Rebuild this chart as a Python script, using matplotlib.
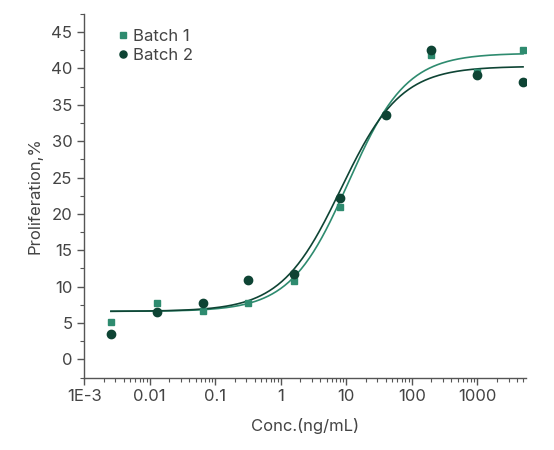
import numpy as np
import matplotlib.pyplot as plt
from matplotlib.ticker import FixedLocator, LogLocator, NullFormatter, MultipleLocator

plt.rcParams['font.family'] = ['Inter', 'DejaVu Sans']

# data
conc = [0.00256, 0.0128, 0.064, 0.32, 1.6, 8, 40, 200, 1000, 5000]
batch1 = [5.1, 7.7, 6.6, 7.7, 10.8, 20.9, 33.6, 41.9, 39.5, 42.6]
batch2 = [3.5, 6.5, 7.8, 10.9, 11.7, 22.2, 33.6, 42.5, 39.1, 38.2]

# 4PL fit parameters (bottom, top, ec50, hill)
fit1 = (6.6, 42.1, 10.8, 0.98)
fit2 = (6.6, 40.3, 8.3, 0.95)

xtick_vals = [1e-3, 0.01, 0.1, 1, 10, 100, 1000]
xtick_labels = ['1E-3', '0.01', '0.1', '1', '10', '100', '1000']

c1 = '#2e8b6f'
c2 = '#0e4434'
grey = '#555555'


def four_pl(x, p):
    bottom, top, ec50, hill = p
    return bottom + (top - bottom) / (1 + (ec50 / x) ** hill)


fig = plt.figure(figsize=(5.54, 4.5), dpi=100)
ax = fig.add_axes([0.152, 0.161, 0.797, 0.808])

xs = np.logspace(np.log10(conc[0]), np.log10(conc[-1]), 300)
ax.plot(xs, four_pl(xs, fit1), color=c1, lw=1.2, zorder=2)
ax.plot(xs, four_pl(xs, fit2), color=c2, lw=1.2, zorder=2)
ax.plot(conc, batch1, 's', color=c1, ms=5, label='Batch 1', zorder=3)
ax.plot(conc, batch2, 'o', color=c2, ms=6, label='Batch 2', zorder=4)

ax.set_xscale('log')
ax.set_xlim(1e-3, 5500)
ax.set_ylim(-2.5, 47.5)
ax.xaxis.set_major_locator(FixedLocator(xtick_vals))
ax.set_xticklabels(xtick_labels)
ax.xaxis.set_minor_locator(LogLocator(base=10, subs=np.arange(2, 10), numticks=20))
ax.xaxis.set_minor_formatter(NullFormatter())
ax.yaxis.set_major_locator(FixedLocator(range(0, 50, 5)))
ax.yaxis.set_minor_locator(MultipleLocator(2.5))

for s in ['top', 'right']:
    ax.spines[s].set_visible(False)
for s in ['left', 'bottom']:
    ax.spines[s].set_color(grey)
    ax.spines[s].set_linewidth(1.0)

ax.tick_params(axis='both', which='major', colors=grey, labelcolor='#444444', labelsize=12,
               length=5, width=1, direction='out')
ax.tick_params(axis='both', which='minor', colors=grey, length=3, width=0.8, direction='out')

ax.set_xlabel('Conc.(ng/mL)', fontsize=12, color='#444444', labelpad=10)
ax.set_ylabel('Proliferation,%', fontsize=12, color='#444444', labelpad=6)

leg = ax.legend(loc='upper left', bbox_to_anchor=(0.035, 1.0), frameon=False, fontsize=12,
                handletextpad=0.1, handlelength=1.0, labelspacing=0.25, labelcolor='#444444',
                markerscale=0.85)

fig.savefig('out.png', dpi=100)
